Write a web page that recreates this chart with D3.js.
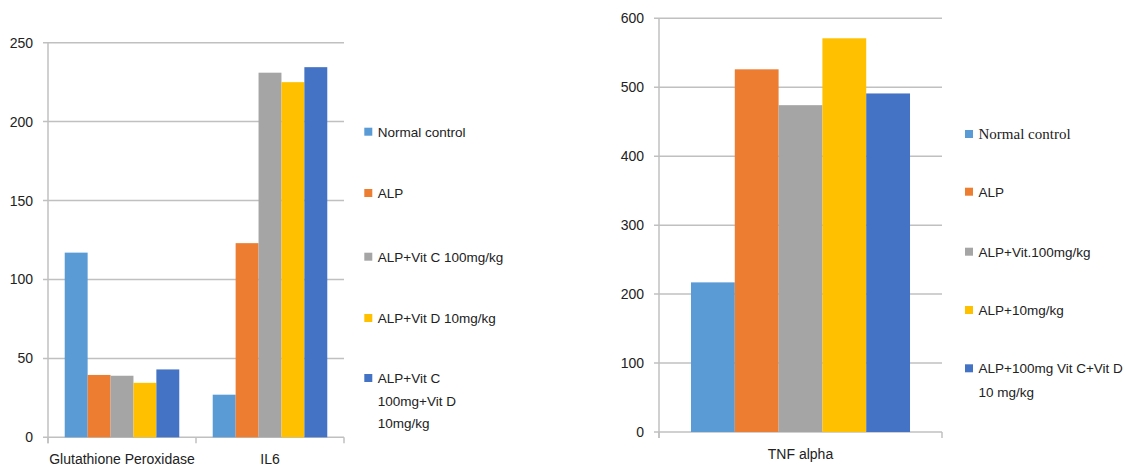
<!DOCTYPE html>
<html><head><meta charset="utf-8">
<script src="https://cdn.jsdelivr.net/npm/d3@7/dist/d3.min.js"></script>
<style>body{margin:0;background:#fff}svg{display:block}text{font-family:"Liberation Sans",Arial,sans-serif;fill:#222}</style>
</head><body><svg id="c" width="1125" height="468"></svg>
<script>
// ---- data ----
const leftCategories = ["Glutathione Peroxidase", "IL6"];
const leftSeries = ["Normal control", "ALP", "ALP+Vit C 100mg/kg", "ALP+Vit D 10mg/kg", "ALP+Vit C 100mg+Vit D 10mg/kg"];
const leftLegendLines = [["Normal control"], ["ALP"], ["ALP+Vit C 100mg/kg"], ["ALP+Vit D 10mg/kg"], ["ALP+Vit C", "100mg+Vit D", "10mg/kg"]];
const normalControlLeft = [117, 27];
const alpLeft = [39.5, 123];
const vitCLeft = [39, 231];
const vitDLeft = [34.5, 225];
const vitCDLeft = [43, 234.5];
const leftTicks = [0, 50, 100, 150, 200, 250];

const rightCategories = ["TNF alpha"];
const rightSeries = ["Normal control", "ALP", "ALP+Vit.100mg/kg", "ALP+10mg/kg", "ALP+100mg Vit C+Vit D 10 mg/kg"];
const rightLegendLines = [["Normal control"], ["ALP"], ["ALP+Vit.100mg/kg"], ["ALP+10mg/kg"], ["ALP+100mg Vit C+Vit D", "10 mg/kg"]];
const rightValues = [217, 526, 474, 571, 491];
const rightTicks = [0, 100, 200, 300, 400, 500, 600];

const colors = ["#5B9BD5", "#ED7D31", "#A5A5A5", "#FFC000", "#4472C4"];
const grid = "#c0c0c0";

const svg = d3.select("#c");

function drawChart(opt) {
  const g = svg.append("g");
  const y = d3.scaleLinear().domain([0, opt.max]).range([opt.y0, opt.y1]);
  const x0 = d3.scaleBand().domain(opt.categories).range([opt.x0, opt.x1]).padding(0);
  const x1 = d3.scaleBand().domain(opt.series).range([0, x0.bandwidth()]).paddingInner(0).paddingOuter(0.73);
  // gridlines
  g.selectAll(".grid").data(opt.ticks).join("line")
    .attr("x1", opt.x0 - 5).attr("x2", opt.x1)
    .attr("y1", d => y(d)).attr("y2", d => y(d))
    .attr("stroke", grid).attr("stroke-width", 1.5);
  // y axis line
  g.append("line").attr("x1", opt.x0).attr("x2", opt.x0)
    .attr("y1", y(opt.max)).attr("y2", y(0) + 6).attr("stroke", grid).attr("stroke-width", 1.5);
  // category ticks
  const bounds = opt.categories.map(c => x0(c) + x0.bandwidth()).concat([opt.x0]);
  g.selectAll(".ct").data(bounds).join("line")
    .attr("x1", d => d).attr("x2", d => d).attr("y1", y(0)).attr("y2", y(0) + 6)
    .attr("stroke", grid).attr("stroke-width", 1.5);
  // tick labels
  const ya = d3.axisLeft(y).tickValues(opt.ticks).tickSize(0).tickPadding(opt.tickPad);
  const ag = g.append("g").attr("transform", `translate(${opt.x0},0)`).call(ya);
  ag.select(".domain").remove();
  ag.selectAll("text").style("font-size", "14px").style("fill", "#222").style("font-family", '"Liberation Sans",Arial,sans-serif');
  // bars
  opt.categories.forEach((c, ci) => {
    g.selectAll(null).data(opt.series).join("rect")
      .attr("x", s => x0(c) + x1(s))
      .attr("width", x1.bandwidth())
      .attr("y", (s, si) => y(opt.values[si][ci]))
      .attr("height", (s, si) => y(0) - y(opt.values[si][ci]))
      .attr("fill", (s, si) => colors[si]);
  });
  // category labels
  g.selectAll(".cl").data(opt.categories).join("text")
    .attr("x", c => x0(c) + x0.bandwidth() / 2).attr("y", opt.labelY)
    .attr("text-anchor", "middle").style("font-size", "14px").text(c => c);
  // legend
  opt.legend.forEach((lines, i) => {
    const cy = opt.legendY[i];
    g.append("rect").attr("x", opt.legendX).attr("y", cy - 4).attr("width", 8).attr("height", 8).attr("fill", colors[i]);
    lines.forEach((ln, li) => {
      g.append("text").attr("x", opt.legendX + 13.5).attr("y", cy + 5 + li * opt.lineH)
        .style("font-size", (opt.serifFirst && i === 0) ? "15px" : "13.5px")
        .style("font-family", (opt.serifFirst && i === 0) ? '"Liberation Serif","Times New Roman",serif' : null)
        .text(ln);
    });
  });
}

drawChart({
  categories: leftCategories, series: leftSeries,
  values: [normalControlLeft, alpLeft, vitCLeft, vitDLeft, vitCDLeft],
  max: 250, ticks: leftTicks, y0: 437.3, y1: 42.7, x0: 48, x1: 344, tickPad: 15,
  labelY: 464, legend: leftLegendLines, legendX: 364.3,
  legendY: [131.7, 193, 256.7, 318, 378], lineH: 22.5, serifFirst: false
});

drawChart({
  categories: rightCategories, series: rightSeries,
  values: rightValues.map(v => [v]),
  max: 600, ticks: rightTicks, y0: 432, y1: 18.3, x0: 659, x1: 942, tickPad: 15,
  labelY: 459, legend: rightLegendLines, legendX: 965,
  legendY: [134, 191.7, 251.7, 310, 368.3], lineH: 23.4, serifFirst: true
});
</script></body></html>
